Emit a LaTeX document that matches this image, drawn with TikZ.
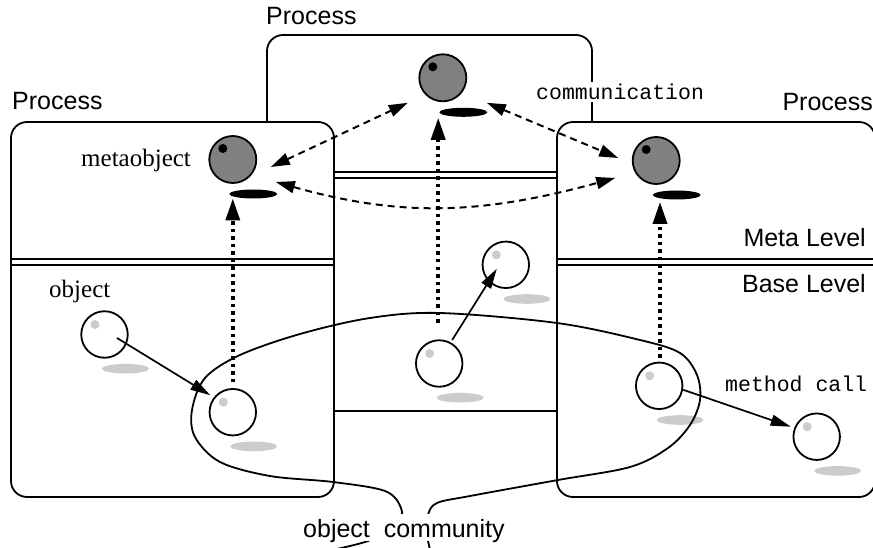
\documentclass[tikz,border=0pt]{standalone}
\usepackage{fontspec}
\setmainfont{Liberation Serif}
\setsansfont{Liberation Sans}
\setmonofont{Liberation Mono}
\usetikzlibrary{arrows.meta,calc}
\definecolor{metagray}{RGB}{128,128,128}
\definecolor{shadegray}{RGB}{204,204,204}
\begin{document}
\begin{tikzpicture}[x=1pt,y=-1pt,
  procbox/.style={draw, line width=1.8pt, rounded corners=16pt, fill=white},
  dblline/.style={line width=1.5pt},
  sanslbl/.style={font=\sffamily\fontsize{25}{30}\selectfont, inner sep=0pt},
  seriflbl/.style={font=\rmfamily\fontsize{25}{30}\selectfont, inner sep=0pt},
  ttlbl/.style={font=\ttfamily\fontsize{21.5}{26}\selectfont, inner sep=0pt},
  metaobj/.style={circle, draw, line width=1.8pt, fill=metagray, minimum size=47pt, inner sep=0pt},
  baseobj/.style={circle, draw, line width=1.8pt, fill=white, minimum size=46.5pt, inner sep=0pt},
  dotarrow/.style={line width=3.5pt, dash pattern=on 3.5pt off 4pt, -{Triangle[length=22pt,width=14pt]}},
  dasharrow/.style={line width=2pt, dash pattern=on 7pt off 5pt, {Triangle[length=19pt,width=12pt]}-{Triangle[length=19pt,width=12pt]}},
  solidarrow/.style={line width=1.7pt, -{Triangle[length=20pt,width=11pt]}},
  commcurve/.style={line width=1.8pt}
]
\useasboundingbox (0,0) rectangle (873,548);
\clip (0,0) rectangle (873,548);

% middle process box
\draw[procbox] (267,35) rectangle (592,411);
\draw[dblline] (267,172) -- (592,172);
\draw[dblline] (267,178) -- (592,178);

% left and right process boxes
\draw[procbox] (11,122) rectangle (334,497);
\draw[dblline] (11,259) -- (334,259);
\draw[dblline] (11,265) -- (334,265);
\draw[procbox] (557,122) rectangle (875,497);
\draw[dblline] (557,259) -- (880,259);
\draw[dblline] (557,265) -- (880,265);

% metaobjects
\node[metaobj] (m1) at (232.8,159.5) {};
\node[metaobj] (m2) at (442.8,77.8) {};
\node[metaobj] (m3) at (656.2,160.5) {};
\foreach \n in {m1,m2,m3} {
  \fill[black] ($(\n.center)+(-10,-11)$) circle [radius=4.5pt];
  \fill[black] ($(\n.center)+(20.5,34.5)$) ellipse [x radius=24pt, y radius=4.5pt];
}

% objects
\node[baseobj] (o1) at (104.5,334.5) {};
\node[baseobj] (o2) at (232.8,412.2) {};
\node[baseobj] (o3) at (439.2,363.5) {};
\node[baseobj] (o4) at (505.8,264.8) {};
\node[baseobj] (o5) at (659.2,385.8) {};
\node[baseobj] (o6) at (816.7,436.7) {};
\foreach \n in {o1,o2,o3,o4,o5,o6} {
  \fill[shadegray] ($(\n.center)+(-9.5,-10)$) circle [radius=4.5pt];
  \fill[shadegray] ($(\n.center)+(21,34.2)$) ellipse [x radius=23.5pt, y radius=4.8pt];
}

% object community outline
\draw[commcurve] plot[smooth, tension=0.55] coordinates {
  (318,553) (368,541) (398,524) (401,508) (385,491) (333,482) (270,476)
  (220,462) (195,437) (192,410) (205,378) (240,355) (300,334) (370,318)
  (440,313) (557,323) (640,340) (680,353) (697,375) (700,400) (690,425)
  (668,448) (630,467) (558,480) (470,496) (437,503) (428,515) (427,535)
  (431,553)};

% labels
\node[sanslbl, anchor=base west] (plL) at (12,110) {Process};
\node[sanslbl, anchor=base west] (plM) at (266,25) {Process};
\node[sanslbl, anchor=base east] (plR) at (873,111) {Process};
\node[seriflbl, anchor=base west] (mo) at (81,167) {metaobject};
\node[seriflbl, anchor=base west] (ob) at (49,297) {object};
\node[sanslbl, anchor=base east] (ml) at (866,247) {Meta Level};
\node[sanslbl, anchor=base east] (bl) at (866,292) {Base Level};
\node[ttlbl, anchor=base west] (mc) at (725,391) {method call};
\node[ttlbl, anchor=base west, fill=white, inner xsep=1pt, inner ysep=2pt] (comm) at (535,100) {communication};
\node[sanslbl, anchor=base west, fill=white, text height=23pt, text depth=4pt] (oc) at (303,537) {object\ \ community};

% method calls
\draw[solidarrow] ($(o1.center)+(12.5,3.5)$) -- ($(o2.center)+(-22.5,-17)$);
\draw[solidarrow] ($(o3.center)+(13,-23.5)$) -- ($(o4.center)+(-9,4)$);
\draw[solidarrow] ($(o5.center)+(24,4)$) -- ($(o6.center)+(-26,-10)$);

% reflection (base to meta)
\draw[dotarrow] ($(o2.center)+(0,-30)$) -- ($(o2.center |- m1.center)+(0,39)$);
\draw[dotarrow] ($(o3.center)+(-1,-41)$) -- ($(o3.center |- m2.center)+(-1,40)$);
\draw[dotarrow] ($(o5.center)+(0.8,-28)$) -- ($(o5.center |- m3.center)+(0.8,41.5)$);

% communication between metaobjects
\draw[dasharrow] ($(m1.center)+(38,7.5)$) -- ($(m2.center)+(-35,25)$);
\draw[dasharrow] ($(m2.center)+(44,25)$) -- ($(m3.center)+(-38,-2.5)$);
\draw[dasharrow] ($(m1.center)+(43,22.5)$) .. controls (400,217) and (480,215) .. ($(m3.center)+(-41,17.5)$);
\end{tikzpicture}
\end{document}
